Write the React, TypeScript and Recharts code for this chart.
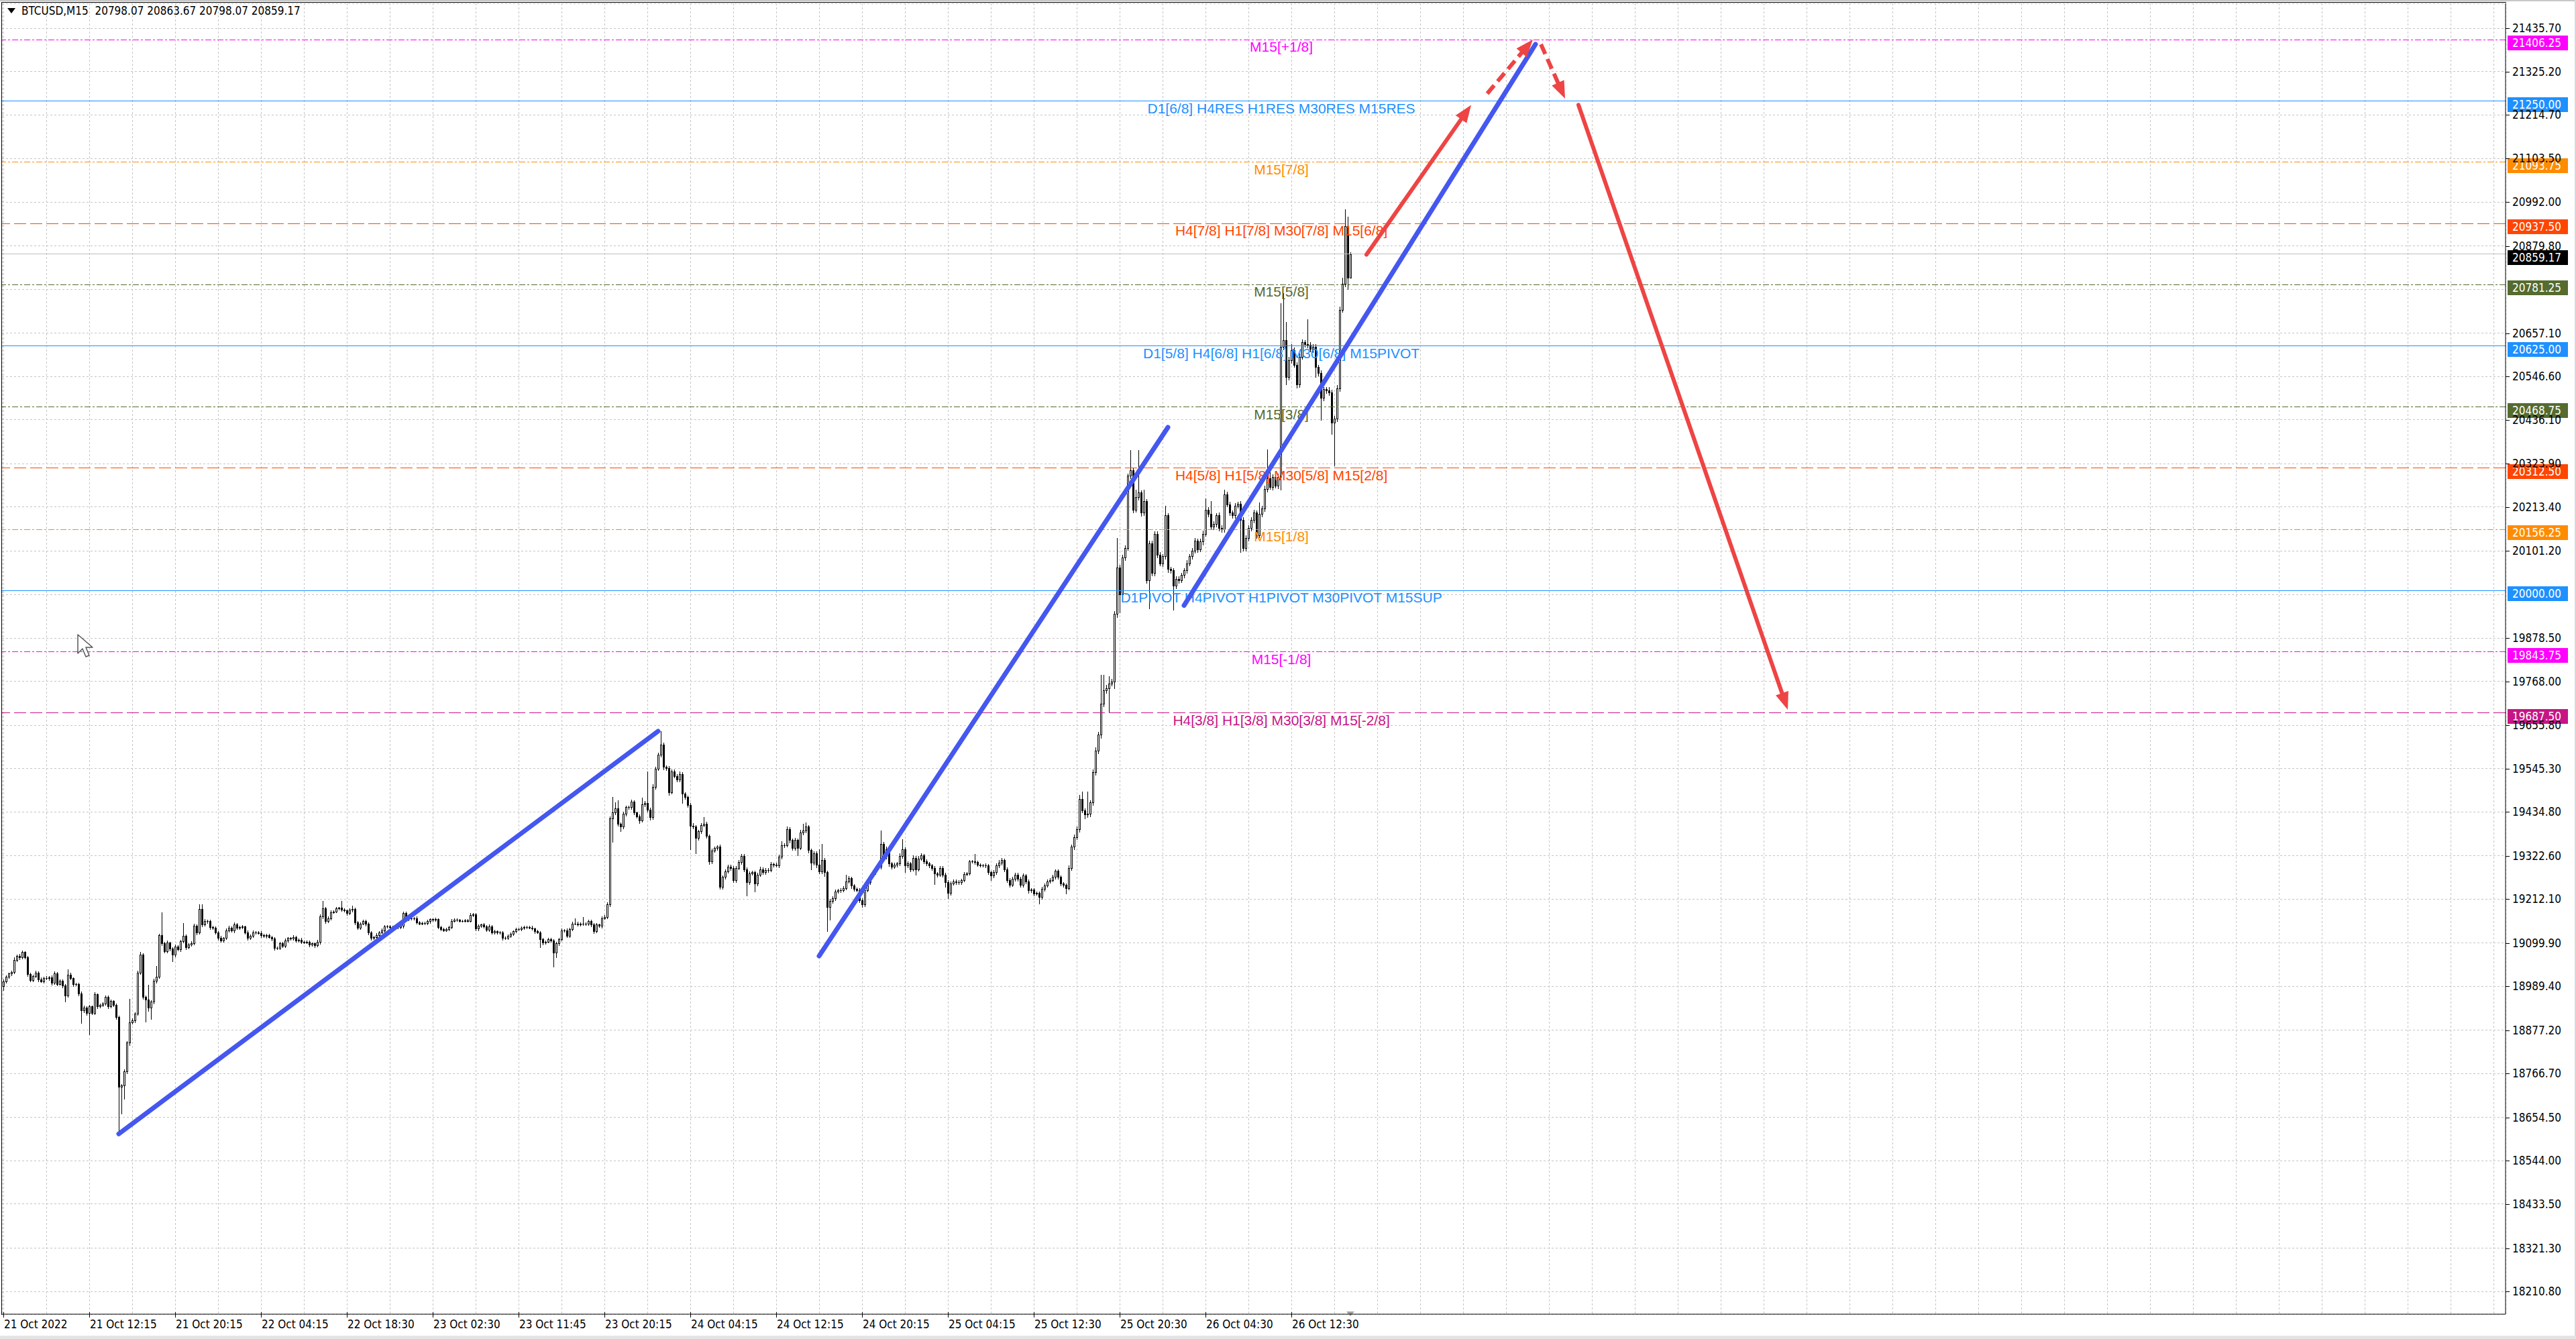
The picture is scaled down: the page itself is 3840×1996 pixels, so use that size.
import React from 'react';
import { ComposedChart, Bar, XAxis, YAxis, CartesianGrid, ReferenceLine } from 'recharts';

// BTCUSD M15 candles, one entry per bar; open of a bar is the previous close
const firstOpen = 18990;
const closes = [
  19002, 19014, 19022, 19026, 19057, 19067, 19063, 19077, 19064, 19021, 19006, 19016, 19024, 19008, 19003, 19011, 19010, 19013, 18999, 19023,
  18996, 19004, 18992, 18967, 19020, 19010, 18995, 18995, 18972, 18928, 18935, 18922, 18938, 18922, 18969, 18939, 18942, 18946, 18963, 18938,
  18952, 18942, 18912, 18734, 18736, 18773, 18846, 18898, 18903, 18920, 19024, 19071, 18962, 18956, 18936, 18950, 19004, 19014, 19120, 19100,
  19079, 19101, 19086, 19070, 19092, 19084, 19105, 19119, 19090, 19096, 19100, 19144, 19127, 19187, 19147, 19157, 19156, 19141, 19139, 19128,
  19114, 19107, 19113, 19133, 19140, 19132, 19148, 19139, 19141, 19142, 19128, 19113, 19119, 19128, 19127, 19126, 19120, 19118, 19120, 19116,
  19111, 19087, 19088, 19100, 19093, 19107, 19113, 19111, 19116, 19107, 19109, 19103, 19102, 19103, 19096, 19099, 19094, 19103, 19168, 19188,
  19156, 19164, 19179, 19181, 19189, 19190, 19185, 19183, 19176, 19185, 19187, 19153, 19139, 19150, 19156, 19149, 19127, 19113, 19116, 19121,
  19128, 19133, 19143, 19143, 19141, 19141, 19143, 19141, 19144, 19176, 19161, 19164, 19163, 19164, 19153, 19150, 19151, 19151, 19156, 19161,
  19159, 19161, 19141, 19136, 19133, 19136, 19141, 19157, 19160, 19159, 19157, 19157, 19158, 19157, 19172, 19173, 19137, 19144, 19147, 19143,
  19134, 19143, 19127, 19130, 19127, 19128, 19113, 19113, 19119, 19124, 19130, 19136, 19136, 19139, 19141, 19141, 19140, 19137, 19130, 19128,
  19110, 19101, 19104, 19110, 19107, 19076, 19099, 19110, 19133, 19133, 19119, 19136, 19150, 19150, 19147, 19150, 19149, 19149, 19156, 19147,
  19130, 19147, 19144, 19164, 19167, 19199, 19418, 19434, 19444, 19404, 19397, 19430, 19447, 19447, 19461, 19433, 19424, 19413, 19454, 19458,
  19441, 19421, 19499, 19545, 19581, 19607, 19550, 19547, 19486, 19538, 19527, 19518, 19532, 19481, 19473, 19453, 19400, 19397, 19368, 19385,
  19402, 19405, 19374, 19309, 19336, 19343, 19346, 19243, 19269, 19283, 19295, 19292, 19261, 19292, 19307, 19323, 19289, 19256, 19278, 19281,
  19252, 19275, 19289, 19281, 19286, 19287, 19302, 19300, 19299, 19320, 19349, 19350, 19391, 19363, 19343, 19363, 19343, 19383, 19387, 19397,
  19337, 19306, 19329, 19300, 19283, 19313, 19281, 19193, 19207, 19215, 19232, 19235, 19235, 19241, 19258, 19266, 19247, 19238, 19235, 19210,
  19199, 19235, 19256, 19272, 19281, 19292, 19295, 19354, 19320, 19340, 19303, 19295, 19300, 19303, 19323, 19340, 19298, 19303, 19289, 19318,
  19289, 19316, 19324, 19309, 19303, 19298, 19292, 19278, 19275, 19292, 19275, 19256, 19228, 19252, 19258, 19255, 19256, 19261, 19277, 19278,
  19309, 19309, 19307, 19300, 19299, 19299, 19298, 19281, 19272, 19281, 19298, 19306, 19312, 19289, 19261, 19249, 19264, 19275, 19264, 19249,
  19272, 19258, 19235, 19236, 19227, 19228, 19218, 19238, 19247, 19258, 19261, 19269, 19284, 19269, 19252, 19249, 19241, 19292, 19346, 19371,
  19391, 19468, 19439, 19428, 19431, 19459, 19536, 19592, 19632, 19711, 19745, 19751, 19762, 19768, 19940, 20059, 19990, 20084, 20109, 20293,
  20307, 20207, 20239, 20250, 20199, 20228, 20027, 20120, 20045, 20145, 20091, 20070, 20088, 20192, 20055, 20052, 20012, 20030, 20027, 20040,
  20052, 20070, 20088, 20102, 20127, 20106, 20125, 20145, 20207, 20196, 20163, 20170, 20192, 20160, 20156, 20246, 20220, 20199, 20192, 20217,
  20221, 20181, 20109, 20134, 20160, 20180, 20199, 20142, 20196, 20210, 20260, 20286, 20265, 20290, 20268, 20290, 20623, 20640, 20546, 20589,
  20614, 20577, 20526, 20597, 20634, 20629, 20627, 20617, 20622, 20571, 20555, 20492, 20514, 20511, 20506, 20429, 20440, 20517, 20717, 20783,
  20930, 20798.07, 20859.17,
];
// upper / lower shadow length above / below the body, in price units
const wickUp = [
  5, 4, 3, 4, 6, 3, 5, 4, 3, 4, 3, 4, 5, 3, 4, 3, 4, 3, 4, 5,
  3, 4, 3, 3, 13, 4, 3, 4, 3, 4, 5, 3, 4, 3, 5, 3, 4, 3, 4, 3,
  4, 3, 3, 3, 4, 5, 4, 60, 5, 4, 6, 6, 3, 4, 37, 4, 5, 28, 4, 59,
  4, 5, 3, 4, 5, 3, 4, 32, 3, 4, 5, 6, 3, 12, 12, 4, 3, 4, 3, 4,
  3, 4, 3, 5, 4, 3, 5, 4, 3, 4, 3, 4, 3, 4, 3, 3, 4, 3, 3, 4,
  3, 4, 3, 4, 3, 4, 3, 3, 4, 3, 3, 4, 3, 3, 4, 3, 3, 5, 6, 19,
  4, 5, 4, 3, 4, 3, 17, 4, 3, 4, 9, 3, 4, 3, 4, 3, 4, 3, 3, 4,
  3, 4, 3, 3, 3, 4, 3, 3, 4, 5, 5, 4, 3, 3, 4, 3, 3, 3, 4, 3,
  3, 4, 3, 3, 4, 3, 4, 5, 3, 3, 3, 3, 3, 4, 4, 3, 4, 3, 3, 4,
  3, 4, 3, 4, 3, 3, 3, 4, 3, 4, 3, 3, 4, 3, 3, 3, 3, 4, 3, 4,
  3, 4, 3, 4, 3, 3, 4, 4, 5, 3, 4, 4, 5, 14, 4, 3, 17, 4, 4, 3,
  4, 4, 3, 5, 4, 6, 5, 39, 15, 20, 4, 5, 4, 4, 6, 4, 3, 4, 17, 5,
  80, 5, 6, 5, 6, 34, 5, 4, 5, 6, 6, 5, 6, 5, 4, 4, 5, 6, 4, 5,
  5, 17, 4, 4, 5, 4, 4, 5, 4, 5, 6, 5, 4, 5, 6, 5, 4, 5, 5, 4,
  4, 5, 6, 4, 5, 4, 5, 4, 5, 6, 11, 5, 6, 5, 4, 6, 4, 6, 17, 11,
  5, 4, 6, 5, 40, 41, 5, 4, 5, 4, 5, 4, 5, 4, 17, 5, 4, 4, 4, 5,
  4, 5, 6, 5, 5, 4, 5, 33, 5, 6, 4, 4, 5, 4, 6, 26, 4, 5, 4, 6,
  4, 6, 5, 4, 5, 4, 4, 5, 4, 5, 4, 4, 4, 5, 5, 4, 5, 4, 5, 4,
  3, 4, 19, 4, 4, 3, 4, 4, 4, 5, 5, 6, 5, 4, 4, 5, 5, 5, 4, 5,
  6, 4, 4, 4, 4, 4, 4, 5, 5, 5, 5, 6, 5, 4, 4, 4, 4, 6, 6, 6,
  6, 11, 19, 5, 56, 6, 7, 8, 8, 74, 40, 8, 20, 6, 8, 76, 6, 8, 7, 5,
  51, 6, 18, 108, 6, 29, 6, 8, 7, 6, 6, 7, 6, 25, 6, 6, 6, 7, 6, 6,
  6, 7, 6, 7, 8, 6, 7, 8, 28, 6, 32, 7, 6, 7, 6, 11, 6, 7, 6, 7,
  6, 7, 6, 7, 6, 7, 8, 6, 29, 7, 8, 75, 34, 7, 6, 8, 111, 120, 46, 8,
  15, 7, 6, 8, 7, 6, 63, 7, 8, 7, 6, 7, 6, 6, 8, 7, 6, 8, 9, 16,
  44, 25, 4.5,
];
const wickDn = [
  10, 4, 3, 4, 3, 4, 5, 3, 4, 5, 4, 3, 4, 5, 3, 4, 3, 4, 5, 3,
  4, 3, 5, 17, 4, 3, 4, 3, 5, 32, 4, 5, 55, 4, 3, 5, 4, 3, 4, 5,
  3, 4, 5, 121, 69, 34, 5, 6, 4, 5, 4, 3, 5, 56, 10, 29, 4, 5, 4, 5,
  4, 3, 5, 17, 4, 3, 4, 3, 5, 4, 3, 4, 5, 3, 4, 3, 4, 5, 3, 4,
  5, 4, 3, 3, 4, 3, 4, 3, 4, 3, 5, 4, 3, 3, 4, 3, 4, 3, 4, 3,
  4, 5, 3, 4, 3, 3, 4, 3, 3, 4, 3, 4, 3, 3, 4, 3, 4, 3, 5, 4,
  5, 3, 4, 3, 3, 4, 3, 3, 5, 3, 4, 5, 4, 3, 3, 4, 5, 4, 3, 3,
  3, 3, 4, 3, 3, 3, 4, 3, 3, 4, 4, 3, 3, 3, 4, 3, 3, 3, 3, 4,
  3, 3, 4, 4, 3, 3, 3, 3, 3, 3, 3, 3, 3, 3, 3, 3, 5, 4, 3, 3,
  4, 3, 4, 3, 3, 4, 4, 3, 3, 3, 3, 3, 3, 3, 3, 3, 3, 3, 4, 3,
  20, 4, 3, 3, 4, 37, 12, 4, 3, 4, 4, 3, 3, 3, 3, 3, 3, 3, 3, 4,
  4, 3, 3, 4, 3, 4, 5, 60, 5, 4, 12, 4, 5, 4, 4, 5, 4, 7, 4, 5,
  5, 6, 5, 5, 4, 5, 6, 6, 7, 5, 5, 6, 5, 23, 5, 6, 60, 5, 39, 5,
  5, 4, 6, 7, 6, 4, 5, 5, 4, 5, 4, 5, 6, 5, 4, 5, 6, 35, 5, 4,
  20, 5, 4, 5, 4, 5, 4, 5, 4, 5, 5, 5, 4, 6, 5, 5, 19, 4, 5, 5,
  6, 17, 5, 6, 5, 5, 10, 63, 34, 5, 5, 4, 5, 4, 5, 4, 6, 5, 4, 6,
  6, 5, 4, 5, 4, 5, 4, 5, 6, 5, 6, 5, 4, 5, 4, 5, 17, 4, 6, 5,
  14, 5, 4, 5, 4, 5, 5, 28, 5, 4, 5, 12, 13, 5, 4, 5, 4, 5, 4, 5,
  4, 4, 5, 4, 4, 4, 4, 5, 11, 4, 5, 4, 5, 6, 5, 5, 4, 5, 5, 6,
  5, 5, 6, 5, 6, 4, 17, 5, 5, 4, 4, 4, 4, 5, 5, 5, 14, 5, 5, 6,
  6, 7, 6, 9, 6, 7, 6, 7, 7, 8, 7, 6, 60, 5, 18, 8, 46, 6, 7, 6,
  7, 8, 6, 7, 8, 6, 8, 72, 7, 6, 7, 6, 7, 6, 8, 7, 61, 6, 7, 6,
  6, 7, 6, 7, 6, 7, 6, 7, 6, 7, 6, 7, 6, 7, 6, 7, 6, 7, 6, 7,
  6, 82, 8, 7, 6, 7, 6, 7, 6, 7, 8, 7, 6, 7, 6, 7, 33, 8, 20, 7,
  7, 6, 8, 7, 6, 7, 6, 7, 8, 25, 6, 57, 7, 6, 7, 29, 109, 7, 7, 6,
  7, 29, 0,
];

const TOTAL_SLOTS = 933; // bars that fit in the window incl. the chart shift

const timeTickBars = [0, 32, 64, 96, 128, 160, 192, 224, 256, 288, 320, 352, 384, 416, 448, 480];
const timeTickLabels = [
  '21 Oct 2022', '21 Oct 12:15', '21 Oct 20:15', '22 Oct 04:15', '22 Oct 18:30', '23 Oct 02:30',
  '23 Oct 11:45', '23 Oct 20:15', '24 Oct 04:15', '24 Oct 12:15', '24 Oct 20:15', '25 Oct 04:15',
  '25 Oct 12:30', '25 Oct 20:30', '26 Oct 04:30', '26 Oct 12:30',
];

const priceTicks = [
  21435.7, 21325.2, 21214.7, 21103.5, 20992.0, 20879.8, 20768.5, 20657.1, 20546.6, 20436.1,
  20323.9, 20213.4, 20101.2, 19989.9, 19878.5, 19768.0, 19655.8, 19545.3, 19434.8, 19322.6,
  19212.1, 19099.9, 18989.4, 18877.2, 18766.7, 18654.5, 18544.0, 18433.5, 18321.3, 18210.8,
];
const coveredTicks = [20768.5, 19989.9];
const priceDomain = [18152.6, 21499.4];

// Murrey math / pivot levels
const levelPrices = [21406.25, 21250, 21093.75, 20937.5, 20781.25, 20625, 20468.75, 20312.5, 20156.25, 20000, 19843.75, 19687.5];
const levelNames = [
  'M15[+1/8]',
  'D1[6/8] H4RES H1RES M30RES M15RES',
  'M15[7/8]',
  'H4[7/8] H1[7/8] M30[7/8] M15[6/8]',
  'M15[5/8]',
  'D1[5/8] H4[6/8] H1[6/8] M30[6/8] M15PIVOT',
  'M15[3/8]',
  'H4[5/8] H1[5/8] M30[5/8] M15[2/8]',
  'M15[1/8]',
  'D1PIVOT H4PIVOT H1PIVOT M30PIVOT M15SUP',
  'M15[-1/8]',
  'H4[3/8] H1[3/8] M30[3/8] M15[-2/8]',
];
const levelKinds = ['ext', 'daily', 'oct1', 'oct2', 'oct3', 'daily', 'oct3', 'oct2', 'oct1', 'daily', 'ext', 'ext2'];

// hand drawn trend lines and forecast arrows: [bar, price] -> [bar, price]
const trendLines = [
  [43, 18613, 244, 19641],
  [304, 19067, 434, 20417],
  [440, 19962, 571, 21395],
];
const arrowsSolid = [
  [508, 20858, 547, 21240],
  [587, 21240, 665, 19696],
];
const arrowsDashed = [
  [553, 21269, 570, 21407],
  [573, 21395, 582, 21256],
];

const kindStyle: Record<string, { color: string; dash?: string; box: string }> = {
  ext: { color: '#ff00ff', dash: '9 3 3 3', box: '#ff00ff' },
  daily: { color: '#1e90ff', box: '#1e90ff' },
  oct1: { color: '#ff8c00', dash: '9 3 3 3', box: '#ff8c00' },
  oct2: { color: '#ff4500', dash: '18 6', box: '#ff4500' },
  oct3: { color: '#556b2f', dash: '9 3 3 3', box: '#556b2f' },
  ext2: { color: '#c71585', dash: '18 6', box: '#c71585' },
};

const AXIS_FONT = '"DejaVu Sans Condensed", "DejaVu Sans", sans-serif';
const LABEL_FONT = '"Liberation Sans", Arial, sans-serif';
const LABEL_X_FRAC = 0.511;

const data = Array.from({ length: TOTAL_SLOTS }, (_, i) => {
  if (i >= closes.length) return { i };
  const o = i === 0 ? firstOpen : closes[i - 1];
  const c = closes[i];
  const h = Math.max(o, c) + wickUp[i];
  const l = Math.min(o, c) - wickDn[i];
  return { i, o, h, l, c, range: [l, h] };
});
const last = data[closes.length - 1] as any;

const Candle = (props: any) => {
  const { x, y, width, height, payload } = props;
  if (!payload || payload.c == null || !isFinite(y) || !isFinite(height)) return null;
  const top = Math.min(y, y + height);
  const bot = Math.max(y, y + height);
  const span = payload.h - payload.l;
  const py = (p: number) => (span ? top + ((payload.h - p) / span) * (bot - top) : top);
  const cx = Math.round(x + width / 2) + 0.5;
  const yo = py(payload.o);
  const yc = py(payload.c);
  const bTop = Math.round(Math.min(yo, yc)) + 0.5;
  const bBot = Math.round(Math.max(yo, yc)) + 0.5;
  const up = payload.c >= payload.o;
  return (
    <g shapeRendering="crispEdges">
      <line x1={cx} x2={cx} y1={Math.round(top)} y2={Math.round(bot) + 1} stroke="#000" strokeWidth={1} />
      {bBot - bTop < 1 ? (
        <line x1={cx - 1.5} x2={cx + 1.5} y1={bTop} y2={bTop} stroke="#000" strokeWidth={1} />
      ) : (
        <rect x={cx - 1} y={bTop} width={2} height={bBot - bTop} fill={up ? '#fff' : '#000'} stroke="#000" strokeWidth={1} />
      )}
    </g>
  );
};

const TimeTick = (props: any) => {
  const { x, y, payload } = props;
  const idx = timeTickBars.indexOf(payload.value);
  if (idx < 0) return <g />;
  const tx = Math.round(x) + 0.5;
  return (
    <g>
      <line x1={tx} x2={tx} y1={y - 3} y2={y + 5} stroke="#000" strokeWidth={1} shapeRendering="crispEdges" />
      <text x={x + 1} y={y + 21} fontFamily={AXIS_FONT} fontSize={17} fill="#000">
        {timeTickLabels[idx]}
      </text>
    </g>
  );
};

const PriceTick = (props: any) => {
  const { x, y, payload } = props;
  if (coveredTicks.includes(payload.value)) return <g />;
  const ty = Math.round(y) + 0.5;
  return (
    <g>
      <line x1={x} x2={x + 6} y1={ty} y2={ty} stroke="#000" strokeWidth={1} shapeRendering="crispEdges" />
      <text x={x + 10} y={y + 6} fontFamily={AXIS_FONT} fontSize={17} fill="#000">
        {payload.value.toFixed(2)}
      </text>
    </g>
  );
};

const levelText = (name: string, color: string) => (p: any) => {
  const vb = p.viewBox || {};
  return (
    <text x={vb.x + vb.width * LABEL_X_FRAC} y={vb.y + 18} textAnchor="middle" fontFamily={LABEL_FONT} fontSize={21} fill={color}>
      {name}
    </text>
  );
};

const priceBox = (price: number, bg: string) => (p: any) => {
  const vb = p.viewBox || {};
  const bx = vb.x + vb.width + 3;
  const by = Math.round(vb.y) - 6;
  return (
    <g>
      <rect x={bx} y={by} width={90} height={22} fill={bg} />
      <text x={bx + 7} y={by + 17} fontFamily={AXIS_FONT} fontSize={17} fill="#fff">
        {price.toFixed(2)}
      </text>
    </g>
  );
};

const Arrow = (props: any) => {
  const { x1, y1, x2, y2, stroke, strokeWidth, strokeDasharray } = props;
  if (![x1, y1, x2, y2].every((v) => isFinite(v))) return null;
  const dx = x2 - x1;
  const dy = y2 - y1;
  const len = Math.hypot(dx, dy) || 1;
  const ux = dx / len;
  const uy = dy / len;
  const head = 26;
  const half = 10;
  const bx = x2 - ux * head;
  const by = y2 - uy * head;
  return (
    <g>
      <line x1={x1} y1={y1} x2={bx + ux * 2} y2={by + uy * 2} stroke={stroke} strokeWidth={strokeWidth} strokeDasharray={strokeDasharray} strokeLinecap={strokeDasharray ? 'butt' : 'round'} />
      <polygon points={`${x2},${y2} ${bx - uy * half},${by + ux * half} ${bx + uy * half},${by - ux * half}`} fill={stroke} />
    </g>
  );
};

const ShiftMarker = (props: any) => {
  const { x1, y1 } = props;
  if (!isFinite(x1)) return null;
  return <polygon points={`${x1 - 6},${y1 - 4} ${x1 + 6},${y1 - 4} ${x1},${y1 + 3}`} fill="#a0a0a0" />;
};

const gridBars: number[] = [];
for (let b = 0; b < TOTAL_SLOTS; b += 16) gridBars.push(b);

export default function App() {
  return (
    <div style={{ position: 'relative', width: 3840, height: 1996, background: '#fff', overflow: 'hidden' }}>
      <style>{`body{margin:0;}`}</style>
      <ComposedChart width={3840} height={1996} data={data} margin={{ top: 5, right: 0, bottom: 0, left: 3 }} barCategoryGap={0} barGap={0}>
        <CartesianGrid stroke="#c4c4c4" strokeDasharray="3 3" shapeRendering="crispEdges" />
        <XAxis
          dataKey="i"
          type="category"
          ticks={gridBars}
          interval={0}
          tick={<TimeTick />}
          tickLine={false}
          tickSize={0}
          tickMargin={0}
          height={37}
          axisLine={{ stroke: '#000' }}
        />
        <YAxis
          orientation="right"
          type="number"
          domain={priceDomain}
          allowDataOverflow
          ticks={priceTicks}
          interval={0}
          tick={<PriceTick />}
          tickLine={false}
          tickSize={0}
          tickMargin={0}
          width={105}
          axisLine={{ stroke: '#000' }}
        />
        {levelPrices.map((p, k) => {
          const st = kindStyle[levelKinds[k]];
          return (
            <ReferenceLine
              key={`lvl-${k}`}
              y={p}
              stroke={st.color}
              strokeDasharray={st.dash}
              strokeWidth={1}
              shapeRendering="crispEdges"
              label={levelText(levelNames[k], st.color)}
            />
          );
        })}
        <ReferenceLine y={last.c} stroke="#c0c0c0" strokeWidth={1} shapeRendering="crispEdges" />
        <Bar dataKey="range" shape={<Candle />} isAnimationActive={false} />
        {trendLines.map((t, k) => (
          <ReferenceLine
            key={`tr-${k}`}
            segment={[{ x: t[0], y: t[1] }, { x: t[2], y: t[3] }]}
            stroke="#4457ef"
            strokeWidth={7}
            strokeLinecap="round"
          />
        ))}
        {arrowsSolid.map((t, k) => (
          <ReferenceLine
            key={`as-${k}`}
            segment={[{ x: t[0], y: t[1] }, { x: t[2], y: t[3] }]}
            stroke="#ee4444"
            strokeWidth={6}
            shape={<Arrow />}
          />
        ))}
        {arrowsDashed.map((t, k) => (
          <ReferenceLine
            key={`ad-${k}`}
            segment={[{ x: t[0], y: t[1] }, { x: t[2], y: t[3] }]}
            stroke="#ee4444"
            strokeWidth={6}
            strokeDasharray="16 8"
            shape={<Arrow />}
          />
        ))}
        {levelPrices.map((p, k) => (
          <ReferenceLine key={`box-${k}`} y={p} stroke="none" label={priceBox(p, kindStyle[levelKinds[k]].box)} />
        ))}
        <ReferenceLine y={last.c} stroke="none" label={priceBox(last.c, '#000')} />
        <ReferenceLine x={closes.length - 1} stroke="none" shape={<ShiftMarker />} />
      </ComposedChart>
      <div
        style={{
          position: 'absolute',
          left: 10,
          top: 6,
          fontFamily: AXIS_FONT,
          fontSize: 17,
          color: '#000',
          whiteSpace: 'pre',
          display: 'flex',
          alignItems: 'center',
        }}
      >
        <svg width={16} height={12} style={{ marginRight: 6 }}>
          <polygon points="1,2 13,2 7,10" fill="#000" />
        </svg>
        {`BTCUSD,M15  ${last.o.toFixed(2)} ${last.h.toFixed(2)} ${last.l.toFixed(2)} ${last.c.toFixed(2)}`}
      </div>
      {/* mouse pointer captured in the screenshot */}
      <svg style={{ position: 'absolute', left: 114, top: 944 }} width={28} height={40}>
        <polygon points="2,2 2,30 9,23 14,35 19,33 14,21 24,21" fill="#fff" stroke="#555" strokeWidth={1.5} strokeLinejoin="round" />
      </svg>
      <div style={{ position: 'absolute', left: 2, top: 3, width: 3733, height: 1956, borderLeft: '1px solid #000', borderTop: '1px solid #000', pointerEvents: 'none' }} />
      <div style={{ position: 'absolute', left: 0, top: 0, width: 3840, height: 2, background: '#c8c8c8' }} />
      <div style={{ position: 'absolute', right: 0, top: 0, width: 2, height: 1996, background: '#d8d8d8' }} />
      <div style={{ position: 'absolute', left: 0, bottom: 0, width: 3840, height: 5, background: '#e4e4e4' }} />
    </div>
  );
}
